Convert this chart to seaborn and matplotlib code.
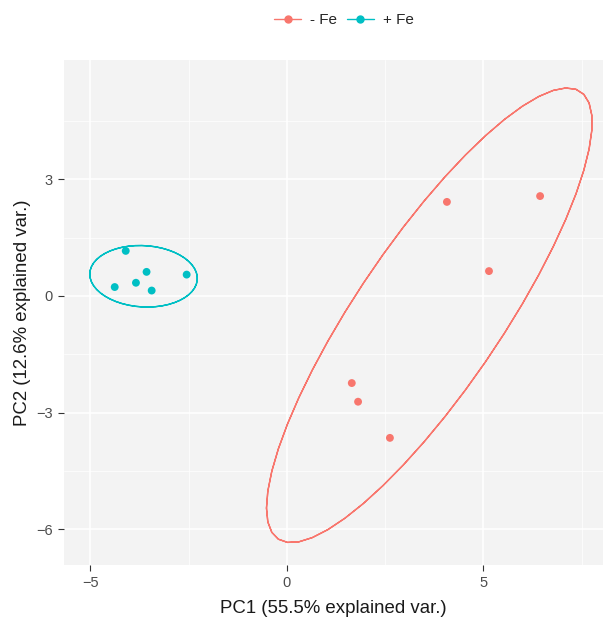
import numpy as np
import pandas as pd
import matplotlib
matplotlib.use("Agg")
import matplotlib.pyplot as plt
from matplotlib.lines import Line2D
import seaborn as sns

# ---- data ----
groups = ["- Fe", "+ Fe"]
colors = ["#F8766D", "#00BFC4"]
minus_pc1 = [4.07, 6.44, 5.14, 1.65, 1.81, 2.62]
minus_pc2 = [2.42, 2.57, 0.64, -2.24, -2.72, -3.65]
plus_pc1 = [-4.10, -3.57, -2.55, -3.84, -4.38, -3.44]
plus_pc2 = [1.16, 0.62, 0.55, 0.34, 0.23, 0.14]
x_ticks = [-5, 0, 5]
y_ticks = [3, 0, -3, -6]
ellipse_prob = 0.90

df = pd.DataFrame({
    "PC1": minus_pc1 + plus_pc1,
    "PC2": minus_pc2 + plus_pc2,
    "group": [groups[0]] * len(minus_pc1) + [groups[1]] * len(plus_pc1),
})

# ---- ellipses as in ggbiplot ----
theta = np.concatenate([np.linspace(-np.pi, np.pi, 50), np.linspace(np.pi, -np.pi, 50)])
circle = np.column_stack([np.cos(theta), np.sin(theta)])
ed = np.sqrt(-2 * np.log(1 - ellipse_prob))
ell_parts = []
for g in groups:
    sub = df[df.group == g]
    xy = sub[["PC1", "PC2"]].to_numpy()
    sigma = np.cov(xy.T)
    mu = xy.mean(axis=0)
    L = np.linalg.cholesky(sigma).T  # upper triangular like R chol
    pts = circle @ L * ed + mu
    ell_parts.append(pd.DataFrame({"PC1": pts[:, 0], "PC2": pts[:, 1], "group": g,
                                   "order": np.arange(len(pts))}))
ell = pd.concat(ell_parts, ignore_index=True)

# ---- figure ----
sns.set_theme(style="white")
plt.rcParams["font.family"] = ["Liberation Sans", "DejaVu Sans"]
fig = plt.figure(figsize=(6.04, 6.17), dpi=100)
ax = fig.add_axes([64 / 604, 1 - 565 / 617, (603 - 64) / 604, (565 - 60) / 617])
ax.set_facecolor("#F3F3F3")

palette = dict(zip(groups, colors))
for g in groups:
    e = ell[ell.group == g]
    sns.lineplot(data=e, x="PC1", y="PC2", sort=False, estimator=None,
                 color=palette[g], linewidth=1.0, ax=ax, legend=False)
sns.scatterplot(data=df, x="PC1", y="PC2", hue="group", palette=palette,
                s=32, edgecolor="none", ax=ax, legend=False, zorder=3)

ax.set_xlim(-5.67, 8.04)
ax.set_ylim(-6.92, 6.07)
ax.set_xticks(x_ticks)
ax.set_yticks(y_ticks)
ax.set_xticks([-2.5, 2.5, 7.5], minor=True)
ax.set_yticks([4.5, 1.5, -1.5, -4.5], minor=True)
ax.grid(True, which="major", color="white", linewidth=1.1)
ax.grid(True, which="minor", color="white", linewidth=0.5)
ax.set_axisbelow(True)
for s in ax.spines.values():
    s.set_visible(False)
ax.tick_params(axis="both", which="major", length=4, width=0.8, color="#333333",
               labelcolor="#4D4D4D", labelsize=10.5, direction="out", pad=4,
               bottom=True, left=True)
ax.tick_params(axis="both", which="minor", length=0)
ax.set_xlabel("PC1 (55.5% explained var.)", fontsize=13.4, color="#1A1A1A", labelpad=7)
ax.set_ylabel("PC2 (12.6% explained var.)", fontsize=13.4, color="#1A1A1A", labelpad=4)

handles = [Line2D([0], [0], color=c, marker="o", markersize=5, linewidth=1.0) for c in colors]
fig.legend(handles, groups, loc="center", bbox_to_anchor=(344 / 604, 1 - 20 / 617),
           ncol=2, frameon=False, fontsize=11, handlelength=1.8, columnspacing=0.6,
           handletextpad=0.6)

fig.savefig("out.png", dpi=100)
